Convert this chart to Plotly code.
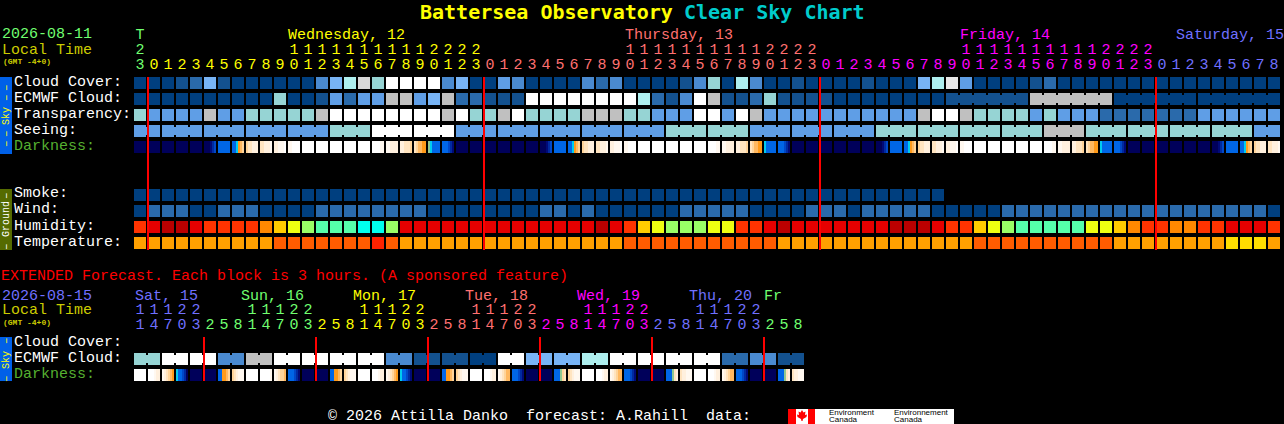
import plotly.graph_objects as go

W, H = 1284, 424
MONO = "Liberation Mono"
TITLE_FONT = "DejaVu Sans Mono"

# ---------- data: sky condition codes, one letter per hourly block ----------
cloud_cover = ("aaabcfbaaa" "aaadfhjgww" "wwdfaaedaa" "aadcdaaaab" "dgahdaabaa"
               "aabaaafhke" "aaaabcaaaa" "aaaaaaaaaaaa")
ecmwf_cloud = ("aaaaaaaaaa" "gaabeceeii" "eficcbbbww" "wwwwwwhcbd" "wibbcgbbbb"
               "aaaaaaaabb" "bbbbiiiiii" "aaaaaaaaaaaa")
transparency = ("geeeeieegg" "gggiwwwwww" "wwiwggiwgg" "ggiiiggeee" "wwewieeeee"
                "eeeeeeiwwi" "ggggegeeec" "cccccceeeeee")
seeing = ("eeeeeeeeee" "eeeegggwww" "wwweeeeeee" "eeeeeeeegg" "ggggeeeeee"
          "eeeggggggg" "gggggiiigg" "ggggggggggee")
smoke = ("aaaaaaaaaa" "aaaaaaaaaa" "aaaaaaaaaa" "aaaaaaaaaa" "aaaaaaaaaa" "aaaaaaaa")
wind = ("acccaaccca" "aaaccccccc" "caaaaaaaac" "cacaaaaaac" "ccccaaaacc"
        "cacccccaaa" "aacccccccc" "ccccccccccca")
humidity = ("rsttsrrrro" "ylgmmmnngs" "ssssssssss" "ssstsrylgg" "gllrrstsss"
            "sssstttsrr" "ylgmmmmmll" "yorroorrsssr")
temperature = ("aaaaaaaaaa" "bbbbbbbcba" "aaaaaaaaaa" "aaaaabbbbb" "bbbbbbaaaa"
               "aaaaaaaaaa" "bbbbbbbbbb" "aaaaaaaaddda")
darkness = [
    "000000", "000000", "000000", "000000", "000000", "000123", "444444", "445789",
    "9aabbb", "aabbbc", "bbcccd", "ccdddd", "dddddd", "dddddd", "dddddd", "dddddd",
    "dddddd", "ddddcc", "ccbbbb", "bbaaa9", "a98877", "654444", "444321", "000000",
    "000000", "000000", "000000", "000000", "000000", "000123", "444444", "445789",
    "9aabbb", "aabbbc", "bbcccd", "ccdddd", "dddddd", "dddddd", "dddddd", "dddddd",
    "dddddd", "ddddcc", "ccbbbb", "bbaaa9", "a98877", "544444", "444321", "000000",
    "000000", "000000", "000000", "000000", "000000", "000123", "444444", "445789",
    "9aabbb", "aabbbc", "bbcccd", "ccdddd", "dddddd", "dddddd", "dddddd", "dddddd",
    "dddddd", "ddddcc", "ccbbbb", "bbaaa9", "a98877", "544444", "444321", "000000",
    "000000", "000000", "000000", "000000", "000000", "000123", "444444", "445789",
    "9aabbb", "aabbbc",
]
ext_ecmwf = "ggwwwwddii" "wwwwwwwwdd" "bbbbaawwff" "ffhhwwwwww" "wwccddbb"
ext_darkness = [
    "dddddd", "dddcbb", "cba987", "544320", "000000", "000000", "447789", "9abccc",
    "dddddd", "dddddc", "cba998", "444321", "000000", "000000", "447789", "9abccc",
    "dddddd", "dddcbb", "cba987", "544321", "000000", "000000", "447789", "9abccc",
    "dddddd", "dddcbb", "cba988", "444321", "000000", "000000", "44469a", "9abccc",
    "dddddd", "dddcbb", "cba988", "444321", "000000", "000000", "4446ab", "abbccc",
    "dddddd", "dddcbb", "cba988", "444321", "000000", "000000", "4446ab", "abbccc",
]

# ---------- data: time labels ----------
main_hours = "301234567890123456789012301234567890123456789012301234567890123456789012301234" \
             "5678"
ext_hours = "147032581470325814703258147032581470325814703258"
main_midnights = [1, 25, 49, 73]
ext_midnights = [5, 13, 21, 29, 37, 45]

SKY = dict(a="#003F7F", b="#13518F", c="#2A6AAB", d="#4A8AD0", e="#5F9EE6", f="#78B4F5",
           g="#96D4D4", h="#AEEFEF", i="#C0C0C0", j="#D8D8D8", k="#E8E8E8", w="#FFFFFF")
HUM = dict(r="#FF3300", s="#E60000", t="#BB0000", o="#FF8800", y="#FFCC00", l="#EEFF11",
           g="#99FF66", m="#55FFAA", n="#00FFEE")
TMP = dict(a="#FFA000", b="#FF5C00", c="#FF2200", d="#FFDD00")
DRK = {"0": "#00005A", "1": "#000A78", "2": "#002AA0", "3": "#0048C8", "4": "#0066E6",
       "5": "#00CCEE", "6": "#90C890", "7": "#FF9A1A", "8": "#FFB860", "9": "#FFD49A",
       "a": "#FFE4C0", "b": "#FFF0DE", "c": "#FFF8F0", "d": "#FFFFFF"}

GREEN, LGREEN, YEL, SAL, MAG, BLU = "#70FF70", "#70FF70", "#FFFF00", "#FF7070", "#FF00FF", "#7070FF"
OLIVE_T = "#CCCC00"

fig = go.Figure()
annos, shapes = [], []


def text(px, py, s, color, size=15, font=MONO, anchor="left", angle=0):
    annos.append(dict(xref="paper", yref="paper", x=(px - 1 if anchor == "left" else px) / W,
                      y=1 - py / H, text=s,
                      showarrow=False, xanchor=anchor, yanchor="middle", borderpad=0,
                      textangle=angle, font=dict(family=font, size=size, color=color)))


def row(codes, top, palette):
    fig.add_trace(go.Bar(x=[i + 6 / 14 for i in range(len(codes))], y=[12] * len(codes),
                         base=[top] * len(codes), width=12 / 14,
                         marker=dict(color=[palette[c] for c in codes], line=dict(width=0))))


def necks(codes, top, palette, joined):
    idx = [i for i in range(len(codes) - 1) if joined(i)]
    fig.add_trace(go.Bar(x=[i + 13 / 14 for i in idx], y=[8] * len(idx),
                         base=[top + 2] * len(idx), width=2 / 14,
                         marker=dict(color=[palette[codes[i]] for i in idx], line=dict(width=0))))


def dark_row(cells, top):
    xs, cols = [], []
    for i, cell in enumerate(cells):
        for k, c in enumerate(cell):
            xs.append(i + (2 * k + 1) / 14)
            cols.append(DRK[c])
    fig.add_trace(go.Bar(x=xs, y=[12] * len(xs), base=[top] * len(xs), width=2 / 14,
                         marker=dict(color=cols, line=dict(width=0))))


def digits(xs, ys, labels, colors):
    fig.add_trace(go.Scatter(x=xs, y=ys, text=labels, mode="text", textposition="middle center",
                             textfont=dict(family=MONO, size=15, color=colors)))


# main rows
row(cloud_cover, 77, SKY)
row(ecmwf_cloud, 93, SKY)
necks(ecmwf_cloud, 93, SKY, lambda i: i >= 58 and (i - 4) % 6 != 5)
row(transparency, 109, SKY)
row(seeing, 125, SKY)
necks(seeing, 125, SKY, lambda i: (i - 1) % 3 != 0)
dark_row(darkness, 141)
row(smoke, 189, SKY)
row(wind, 205, SKY)
row(humidity, 221, HUM)
row(temperature, 237, TMP)
# extended rows
row(ext_ecmwf, 353, SKY)
necks(ext_ecmwf, 353, SKY, lambda i: i % 2 == 0)
dark_row(ext_darkness, 369)

# red day separators
fig.add_trace(go.Bar(x=main_midnights, y=[173] * len(main_midnights), base=[77] * len(main_midnights),
                     width=2 / 14, marker=dict(color="#FF0000", line=dict(width=0))))
fig.add_trace(go.Bar(x=ext_midnights, y=[44] * len(ext_midnights), base=[337] * len(ext_midnights),
                     width=2 / 14, marker=dict(color="#FF0000", line=dict(width=0))))


# main hour labels
def main_color(c):
    if c == 0:
        return GREEN
    return [YEL, SAL, MAG, BLU][(c - 1) // 24]


cols_main = list(range(len(main_hours)))
digits([c + 3 / 7 for c in cols_main], [65] * len(cols_main), list(main_hours),
       [main_color(c) for c in cols_main])
tens_c, tens_t = [], []
for c in cols_main:
    h = (c - 1) % 24
    if c >= 1 and h >= 10:
        tens_c.append(c)
        tens_t.append(str(h // 10))
digits([c + 3 / 7 for c in tens_c], [50] * len(tens_c), tens_t, [main_color(c) for c in tens_c])
digits([3 / 7, 3 / 7], [35, 50], ["T", "2"], [GREEN, GREEN])


# extended hour labels
def ext_color(c):
    if c < 5:
        return BLU
    return [LGREEN, YEL, SAL, MAG, BLU, LGREEN][(c - 5) // 8]


cols_ext = list(range(len(ext_hours)))
digits([c + 3 / 7 for c in cols_ext], [325] * len(cols_ext), list(ext_hours),
       [ext_color(c) for c in cols_ext])
t_c = [c for c in cols_ext if (c - 5) % 8 >= 3]
t_t = ["1" if (c - 5) % 8 < 6 else "2" for c in t_c]
digits([c + 3 / 7 for c in t_c], [310] * len(t_c), t_t, [ext_color(c) for c in t_c])

# texts
text(420, 12, "<b>Battersea Observatory</b>", "#FFFF00", 20, TITLE_FONT)
text(684, 12, "<b>Clear Sky Chart</b>", "#00CCCC", 20, TITLE_FONT)
text(2, 35, "2026-08-11", GREEN)
text(2, 50, "Local Time", OLIVE_T)
text(3, 61, "<b>(GMT -4+0)</b>", OLIVE_T, 8)
text(288, 36, "Wednesday, 12", YEL)
text(625, 36, "Thursday, 13", SAL)
text(960, 36, "Friday, 14", MAG)
text(1176, 36, "Saturday, 15", BLU)
for lab, y, col in [("Cloud Cover:", 82, "#FFFFFF"), ("ECMWF Cloud:", 98, "#FFFFFF"),
                    ("Transparency:", 114, "#FFFFFF"), ("Seeing:", 130, "#FFFFFF"),
                    ("Darkness:", 146, "#55B030"), ("Smoke:", 194, "#FFFFFF"),
                    ("Wind:", 210, "#FFFFFF"), ("Humidity:", 226, "#FFFFFF"),
                    ("Temperature:", 242, "#FFFFFF"), ("Cloud Cover:", 342, "#FFFFFF"),
                    ("ECMWF Cloud:", 358, "#FFFFFF"), ("Darkness:", 374, "#55B030")]:
    text(14, y, lab, col)
text(1, 276, "EXTENDED Forecast. Each block is 3 hours. (A sponsored feature)", "#FF0000")
text(2, 296, "2026-08-15", BLU)
text(2, 310, "Local Time", OLIVE_T)
text(3, 322, "<b>(GMT -4+0)</b>", OLIVE_T, 8)
for lab, x, col in [("Sat, 15", 135, BLU), ("Sun, 16", 241, LGREEN), ("Mon, 17", 353, YEL),
                    ("Tue, 18", 465, SAL), ("Wed, 19", 577, MAG), ("Thu, 20", 689, BLU),
                    ("Fr", 764, LGREEN)]:
    text(x, 296, lab, col)
text(328, 416, "\u00a9 2026 Attilla Danko\u00a0\u00a0forecast: A.Rahill\u00a0\u00a0data:", "#FFFFFF")


def rect(x0, y0, x1, y1, color, layer="below"):
    shapes.append(dict(type="rect", xref="paper", yref="paper", x0=x0 / W, x1=x1 / W,
                       y0=1 - y0 / H, y1=1 - y1 / H, fillcolor=color, line=dict(width=0),
                       layer=layer))


# side tabs
rect(0, 77, 12, 154, "#0060E8")
rect(0, 189, 12, 250, "#556B00")
rect(0, 337, 12, 381, "#0060E8")
text(6, 116, "Sky", "#FFFF00", 10, anchor="center", angle=-90)
for y in (87, 97, 133, 143):
    text(6, y, "\u2013", "#FFFF00", 11, anchor="center", angle=-90)
text(6, 219, "Ground", "#FFFFFF", 10, anchor="center", angle=-90)
for y in (195, 246):
    text(6, y, "\u2013", "#FFFFFF", 11, anchor="center", angle=-90)
text(6, 360, "Sky", "#FFFF00", 10, anchor="center", angle=-90)
for y in (340, 378):
    text(6, y, "\u2013", "#FFFF00", 11, anchor="center", angle=-90)

# Environment Canada logo
rect(788, 409, 954, 424, "#FFFFFF")
rect(788, 409, 796, 424, "#FF0000")
rect(808, 409, 815, 424, "#FF0000")
leaf = [(802, 410), (803.5, 412.5), (805.5, 411.5), (805, 415), (807, 414.5), (806.5, 417),
        (803, 419), (802.5, 421), (801.5, 421), (801, 419), (797.5, 417), (797, 414.5),
        (799, 415), (798.5, 411.5), (800.5, 412.5)]
path = "M " + " L ".join(f"{x / W:.5f},{1 - y / H:.5f}" for x, y in leaf) + " Z"
shapes.append(dict(type="path", xref="paper", yref="paper", path=path, fillcolor="#FF0000",
                   line=dict(width=0), layer="above"))
for s, x, y in [("Environment", 829, 412.5), ("Canada", 829, 419.5),
                ("Environnement", 894, 412.5), ("Canada", 894, 419.5)]:
    text(x, y, s, "#000000", 8, "Liberation Sans")

fig.update_layout(
    width=W, height=H, margin=dict(l=0, r=0, t=0, b=0), paper_bgcolor="#000000",
    plot_bgcolor="#000000", showlegend=False, barmode="overlay", bargap=0,
    hovermode=False, annotations=annos, shapes=shapes,
    xaxis=dict(range=[-134 / 14, (W - 134) / 14], visible=False, fixedrange=True),
    yaxis=dict(range=[H, 0], visible=False, fixedrange=True),
)
assert len(cloud_cover) == len(ecmwf_cloud) == len(transparency) == len(seeing) == 82
assert len(wind) == len(humidity) == len(temperature) == len(darkness) == 82
assert len(ext_ecmwf) == len(ext_darkness) == 48, (len(ext_ecmwf), len(ext_darkness))
fig.write_html("out.html", config={"displayModeBar": False},
               post_script="document.body.style.margin='0';document.body.style.background='#000';")
